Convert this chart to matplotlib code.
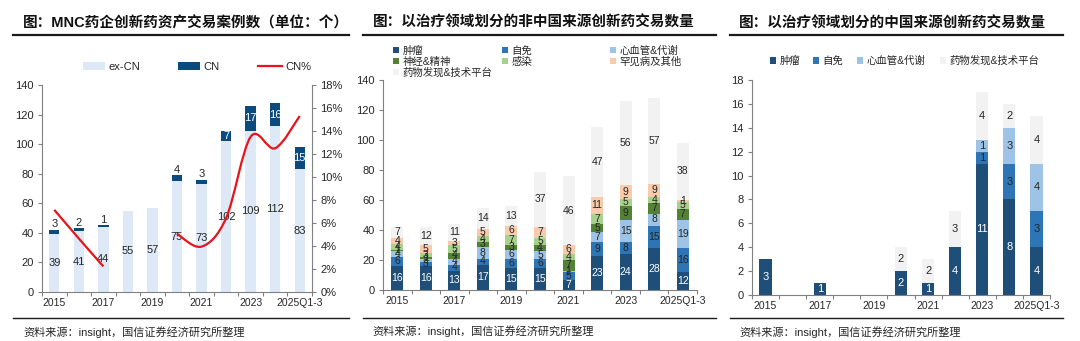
import matplotlib
matplotlib.use('Agg')
import matplotlib.pyplot as plt
import numpy as np
from matplotlib.patches import Patch, PathPatch
from matplotlib.lines import Line2D
from matplotlib.path import Path
from matplotlib.ticker import FuncFormatter, MultipleLocator, FixedLocator

plt.rcParams['font.family'] = ['Liberation Sans', 'Noto Sans CJK SC']

W, H = 1080, 341

# ---------------- data ----------------
years = ['2015', '2016', '2017', '2018', '2019', '2020', '2021', '2022', '2023', '2024', '2025Q1-3']
shown_ticks = ['2015', '2017', '2019', '2021', '2023', '2025Q1-3']

# Panel 1: MNC deals
ex_cn = [39, 41, 44, 55, 57, 75, 73, 102, 109, 112, 83]
cn = [3, 2, 1, 0, 0, 4, 3, 7, 17, 16, 15]

# Panel 2: non-China sourced deals by therapeutic area
areas2 = ['肿瘤', '自免', '心血管&代谢', '神经&精神', '感染', '罕见病及其他', '药物发现&技术平台']
nc_onc = [16, 16, 13, 17, 15, 15, 7, 23, 24, 28, 12]
nc_imm = [6, 3, 4, 4, 6, 6, 5, 9, 8, 15, 16]
nc_cvm = [4, 2, 4, 8, 6, 5, 1, 7, 15, 8, 19]
nc_neu = [1, 1, 4, 3, 3, 4, 7, 5, 9, 7, 7]
nc_inf = [4, 3, 5, 4, 7, 5, 4, 7, 5, 4, 5]
nc_rare = [4, 5, 3, 5, 6, 7, 6, 11, 9, 9, 1]
nc_plat = [7, 12, 11, 14, 13, 37, 46, 47, 56, 57, 38]

# Panel 3: China sourced deals by therapeutic area
areas3 = ['肿瘤', '自免', '心血管&代谢', '药物发现&技术平台']
cn_onc = [3, 0, 1, 0, 0, 2, 1, 4, 11, 8, 4]
cn_imm = [0, 0, 0, 0, 0, 0, 0, 0, 1, 3, 3]
cn_cvm = [0, 0, 0, 0, 0, 0, 0, 0, 1, 3, 4]
cn_plat = [0, 0, 0, 0, 0, 2, 2, 3, 4, 2, 4]

# ---------------- style ----------------
C_ONC = '#1f4e79'
C_IMM = '#2e75b6'
C_CVM = '#9dc3e6'
C_NEU = '#548235'
C_INF = '#a9d18e'
C_RARE = '#f8cbad'
C_PLAT = '#f2f2f2'
C_EXCN = '#dde9f6'
C_CN = '#0b4a7c'
C_RED = '#e8131b'
TXT = '#262626'
SPINE = '#808080'

fig = plt.figure(figsize=(W / 100, H / 100), dpi=100)


def frac_box(x0, y0, x1, y1):
    return [x0 / W, 1 - y1 / H, (x1 - x0) / W, (y1 - y0) / H]


def hline(x0, x1, y, lw):
    fig.add_artist(Line2D([x0 / W, x1 / W], [1 - y / H, 1 - y / H],
                          transform=fig.transFigure, color='#1a1a1a', lw=lw))


def style_axis(ax, right=False):
    for s in ['top', 'right']:
        ax.spines[s].set_visible(False)
    for s in ['left', 'bottom']:
        ax.spines[s].set_color(SPINE)
        ax.spines[s].set_linewidth(0.8)
    x = np.arange(len(years))
    ax.set_xlim(-0.5, len(years) - 0.5)
    ax.xaxis.set_major_locator(FixedLocator(x[::2]))
    ax.set_xticklabels(shown_ticks)
    ax.xaxis.set_minor_locator(FixedLocator(np.arange(-0.5, len(years), 1.0)))
    ax.tick_params(axis='x', which='major', length=0, pad=4, labelsize=7.5, labelcolor=TXT)
    ax.tick_params(axis='x', which='minor', length=3, direction='out', color=SPINE, width=0.8)
    ax.tick_params(axis='y', length=3, direction='out', color=SPINE, width=0.8, labelsize=8,
                   labelcolor=TXT, pad=3)


def key(x, y, handle, label, hl=0.6, hh=0.6, fs=7.5, pad=0.3):
    lg = fig.legend(handles=[handle], labels=[label], loc='center left',
                    bbox_to_anchor=(x / W, 1 - y / H), frameon=False, borderpad=0,
                    borderaxespad=0, handlelength=hl, handleheight=hh, handletextpad=pad,
                    fontsize=fs, labelcolor=TXT)
    return lg


def smooth_path(xs, ys):
    pts = np.column_stack([xs, ys]).astype(float)
    n = len(pts)
    verts = [pts[0]]
    codes = [Path.MOVETO]
    for i in range(n - 1):
        p0 = pts[max(i - 1, 0)]
        p1 = pts[i]
        p2 = pts[i + 1]
        p3 = pts[min(i + 2, n - 1)]
        c1 = p1 + (p2 - p0) / 6.0
        c2 = p2 - (p3 - p1) / 6.0
        verts += [c1, c2, p2]
        codes += [Path.CURVE4] * 3
    return Path(verts, codes)


x = np.arange(len(years))

# ================= Panel 1 =================
fig.text(23 / W, 1 - 23 / H, '图：MNC药企创新药资产交易案例数（单位：个）', fontsize=10.5,
         fontweight='bold', va='center', ha='left', color='#111111')
hline(13, 349, 34.5, 1.6)
hline(13, 349, 318, 1.0)
fig.text(23 / W, 1 - 332 / H, '资料来源：insight，国信证券经济研究所整理', fontsize=8,
         va='center', ha='left', color=TXT)

ax1 = fig.add_axes(frac_box(42, 85, 312, 292))
style_axis(ax1)
bw1 = 0.42
ax1.bar(x, ex_cn, width=bw1, color=C_EXCN, zorder=2)
ax1.bar(x, cn, width=bw1, bottom=ex_cn, color=C_CN, zorder=2)
ax1.set_ylim(0, 140)
ax1.yaxis.set_major_locator(MultipleLocator(20))
for xi, e, c in zip(x, ex_cn, cn):
    ax1.text(xi, e / 2, str(e), ha='center', va='center', fontsize=8, color=TXT, zorder=5)
    if c > 0:
        if c >= 7:
            ax1.text(xi, e + c / 2, str(c), ha='center', va='center', fontsize=8,
                     color='white', zorder=5)
        else:
            ax1.text(xi, e + c + 0.3, str(c), ha='center', va='bottom', fontsize=8,
                     color=TXT, zorder=5)

ax1r = ax1.twinx()
ax1r.set_ylim(0, 18)
ax1r.yaxis.set_major_locator(MultipleLocator(2))
ax1r.yaxis.set_major_formatter(FuncFormatter(lambda v, p: f'{v:.0f}%'))
for s in ['top', 'left', 'bottom']:
    ax1r.spines[s].set_visible(False)
ax1r.spines['right'].set_color(SPINE)
ax1r.spines['right'].set_linewidth(0.8)
ax1r.tick_params(axis='y', length=3, direction='out', color=SPINE, width=0.8, labelsize=8,
                 labelcolor=TXT, pad=3)

pct = np.array([c / (e + c) * 100 if c > 0 else np.nan for e, c in zip(ex_cn, cn)])
valid = ~np.isnan(pct)
seg = []
for i in range(len(pct)):
    if valid[i]:
        seg.append(i)
    if (not valid[i] or i == len(pct) - 1) and seg:
        path = smooth_path(x[seg], pct[seg])
        ax1r.add_patch(PathPatch(path, facecolor='none', edgecolor=C_RED, lw=1.6, zorder=6))
        seg = []

key(83, 67, Patch(facecolor=C_EXCN), 'ex-CN', hl=2.0, hh=0.65, fs=8)
key(178, 67, Patch(facecolor=C_CN), 'CN', hl=2.0, hh=0.65, fs=8)
key(258, 67, Line2D([], [], color=C_RED, lw=1.6), 'CN%', hl=2.2, fs=8)

# ================= Panel 2 =================
fig.text(373 / W, 1 - 23 / H, '图：以治疗领域划分的非中国来源创新药交易数量', fontsize=10.5,
         fontweight='bold', va='center', ha='left', color='#111111')
hline(363, 716, 34.5, 1.6)
hline(363, 716, 318, 1.0)
fig.text(372 / W, 1 - 331 / H, '资料来源：insight，国信证券经济研究所整理', fontsize=8,
         va='center', ha='left', color=TXT)

ax2 = fig.add_axes(frac_box(383, 80, 697, 290))
style_axis(ax2)
ax2.set_ylim(0, 140)
ax2.yaxis.set_major_locator(MultipleLocator(20))
series2 = [nc_onc, nc_imm, nc_cvm, nc_neu, nc_inf, nc_rare, nc_plat]
colors2 = [C_ONC, C_IMM, C_CVM, C_NEU, C_INF, C_RARE, C_PLAT]
bottom = np.zeros(len(years))
bw2 = 0.42
for vals, col in zip(series2, colors2):
    vals = np.array(vals, dtype=float)
    ax2.bar(x, vals, width=bw2, bottom=bottom, color=col, zorder=2)
    tc = 'white' if col == C_ONC else TXT
    for xi, b, v in zip(x, bottom, vals):
        if v > 0:
            ax2.text(xi, b + v / 2, f'{v:.0f}', ha='center', va='center', fontsize=7.5,
                     color=tc, zorder=5)
    bottom += vals

col_x = [393, 502, 610]
row_y = [50.5, 61.5, 72.5]
for i, (lab, col) in enumerate(zip(areas2, colors2)):
    key(col_x[i % 3], row_y[i // 3], Patch(facecolor=col), lab, fs=7.5)

# ================= Panel 3 =================
fig.text(739 / W, 1 - 24 / H, '图：以治疗领域划分的中国来源创新药交易数量', fontsize=10.5,
         fontweight='bold', va='center', ha='left', color='#111111')
hline(730, 1063, 34.5, 1.6)
hline(730, 1063, 318, 1.0)
fig.text(739 / W, 1 - 332 / H, '资料来源：insight，国信证券经济研究所整理', fontsize=8,
         va='center', ha='left', color=TXT)

ax3 = fig.add_axes(frac_box(752, 80, 1050, 295))
style_axis(ax3)
ax3.set_ylim(0, 18)
ax3.yaxis.set_major_locator(MultipleLocator(2))
series3 = [cn_onc, cn_imm, cn_cvm, cn_plat]
colors3 = [C_ONC, C_IMM, C_CVM, C_PLAT]
bottom = np.zeros(len(years))
bw3 = 0.45
for vals, col in zip(series3, colors3):
    vals = np.array(vals, dtype=float)
    ax3.bar(x, vals, width=bw3, bottom=bottom, color=col, zorder=2)
    tc = 'white' if col == C_ONC else TXT
    for xi, b, v in zip(x, bottom, vals):
        if v > 0:
            ax3.text(xi, b + v / 2, f'{v:.0f}', ha='center', va='center', fontsize=8,
                     color=tc, zorder=5)
    bottom += vals

for xp, lab, col in zip([770, 813, 857, 940], areas3, colors3):
    key(xp, 61, Patch(facecolor=col), lab, fs=7.5)

fig.savefig('out.png', dpi=100, facecolor='white')
